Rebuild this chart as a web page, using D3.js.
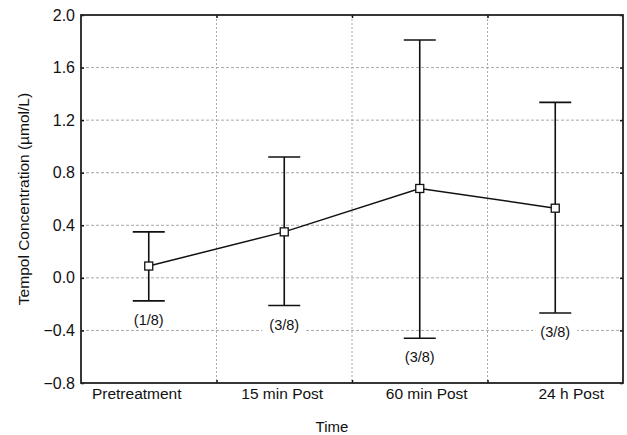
<!DOCTYPE html>
<html>
<head>
<meta charset="utf-8">
<script src="https://cdn.jsdelivr.net/npm/d3@7"></script>
<style>
  body { margin: 0; background: #fff; }
  svg { font-family: "Liberation Sans", Arial, sans-serif; }
</style>
</head>
<body>
<div id="chart"></div>
<script>
// values
const categories = ["Pretreatment", "15 min Post", "60 min Post", "24 h Post"];
const means = [0.09, 0.35, 0.68, 0.53];
const upper = [0.35, 0.92, 1.81, 1.335];
const lower = [-0.175, -0.21, -0.46, -0.267];
const counts = ["(1/8)", "(3/8)", "(3/8)", "(3/8)"];
const yTicks = [-0.8, -0.4, 0.0, 0.4, 0.8, 1.2, 1.6, 2.0];

const W = 627, H = 435;
const margin = { top: 15, right: 4, bottom: 52, left: 81 };
const width = W - margin.left - margin.right,
      height = H - margin.top - margin.bottom;

const svg = d3.select("#chart").append("svg")
    .attr("width", W).attr("height", H);
const g = svg.append("g").attr("transform", `translate(${margin.left},${margin.top})`);

const x = d3.scaleBand().domain(categories).range([0, width]);
const y = d3.scaleLinear().domain([-0.8, 2.0]).range([height, 0]);
const cx = c => x(c) + x.bandwidth() / 2;

// grid
g.append("g").selectAll("line")
  .data(yTicks.filter(t => t > -0.8 && t < 2.0))
  .join("line")
    .attr("x1", 0).attr("x2", width)
    .attr("y1", d => y(d)).attr("y2", d => y(d))
    .attr("stroke", "#a8a8a8").attr("stroke-width", 1)
    .attr("stroke-dasharray", "3,2");
g.append("g").selectAll("line")
  .data(categories.slice(1))
  .join("line")
    .attr("x1", d => x(d)).attr("x2", d => x(d))
    .attr("y1", 0).attr("y2", height)
    .attr("stroke", "#a8a8a8").attr("stroke-width", 1)
    .attr("stroke-dasharray", "2,2");

// count labels with white boxes
const labs = g.append("g").selectAll("g")
  .data(categories)
  .join("g")
    .attr("transform", (d, i) => `translate(${cx(d)},${y(lower[i]) + 19})`);
labs.append("rect")
    .attr("x", -22).attr("y", -9).attr("width", 44).attr("height", 18)
    .attr("fill", "#fff");
labs.append("text")
    .attr("text-anchor", "middle").attr("dy", "0.35em")
    .attr("font-size", 14.5).attr("fill", "#111")
    .text((d, i) => counts[i]);

// axes (ticks inside)
const axL = g.append("g").call(d3.axisLeft(y).tickValues(yTicks).tickFormat(d3.format(".1f")).tickSizeInner(-3).tickSizeOuter(0).tickPadding(6));
const axR = g.append("g").attr("transform", `translate(${width},0)`)
  .call(d3.axisRight(y).tickValues(yTicks).tickSizeInner(-3).tickSizeOuter(0).tickFormat(""));
const bounds = categories.slice(1).map(c => x(c));
const xb = d3.scaleLinear().domain([0, width]).range([0, width]);
const axB = g.append("g").attr("transform", `translate(0,${height})`)
  .call(d3.axisBottom(xb).tickValues(bounds).tickSizeInner(-3).tickSizeOuter(0).tickFormat(""));
const axT = g.append("g")
  .call(d3.axisTop(xb).tickValues(bounds).tickSizeInner(-3).tickSizeOuter(0).tickFormat(""));
[axL, axR, axB, axT].forEach(a => {
  a.select(".domain").remove();
  a.selectAll("line").attr("stroke", "#111").attr("stroke-width", 1.5);
});
axL.selectAll("text").attr("font-size", 16).attr("fill", "#111").attr("font-family", "Liberation Sans, Arial, sans-serif")
  .text(d => d3.format(".1f")(d).replace("-", "\u2212"));

// frame
g.append("rect").attr("width", width).attr("height", height)
  .attr("fill", "none").attr("stroke", "#222").attr("stroke-width", 1.8);

// category labels
const labelShift = [-12, -2, 7, 16];
g.append("g").selectAll("text")
  .data(categories)
  .join("text")
    .attr("x", (d, i) => cx(d) + labelShift[i])
    .attr("y", height + 16)
    .attr("text-anchor", "middle")
    .attr("font-size", 15.5).attr("fill", "#111")
    .text(d => d);

// error bars
const eb = g.append("g").attr("stroke", "#111").attr("stroke-width", 1.6);
eb.selectAll(".v").data(categories).join("line")
    .attr("x1", d => cx(d)).attr("x2", d => cx(d))
    .attr("y1", (d, i) => y(upper[i])).attr("y2", (d, i) => y(lower[i]));
eb.selectAll(".cu").data(categories).join("line")
    .attr("x1", d => cx(d) - 16).attr("x2", d => cx(d) + 16)
    .attr("y1", (d, i) => y(upper[i])).attr("y2", (d, i) => y(upper[i]));
eb.selectAll(".cl").data(categories).join("line")
    .attr("x1", d => cx(d) - 16).attr("x2", d => cx(d) + 16)
    .attr("y1", (d, i) => y(lower[i])).attr("y2", (d, i) => y(lower[i]));

// mean line and markers
const line = d3.line().x(d => cx(d)).y((d, i) => y(means[i]));
g.append("path").datum(categories).attr("d", line)
  .attr("fill", "none").attr("stroke", "#111").attr("stroke-width", 1.5);
g.append("g").selectAll("rect")
  .data(categories)
  .join("rect")
    .attr("x", d => cx(d) - 4).attr("y", (d, i) => y(means[i]) - 4)
    .attr("width", 8).attr("height", 8)
    .attr("fill", "#fff").attr("stroke", "#111").attr("stroke-width", 1.3);

// axis titles
svg.append("text")
  .attr("transform", `translate(24,${margin.top + height / 2}) rotate(-90)`)
  .attr("text-anchor", "middle").attr("dy", "0.35em")
  .attr("font-size", 15.5).attr("fill", "#111")
  .text("Tempol Concentration (\u00b5mol/L)");
svg.append("text")
  .attr("x", 332).attr("y", 432)
  .attr("text-anchor", "middle")
  .attr("font-size", 15).attr("fill", "#111")
  .text("Time");
</script>
</body>
</html>
